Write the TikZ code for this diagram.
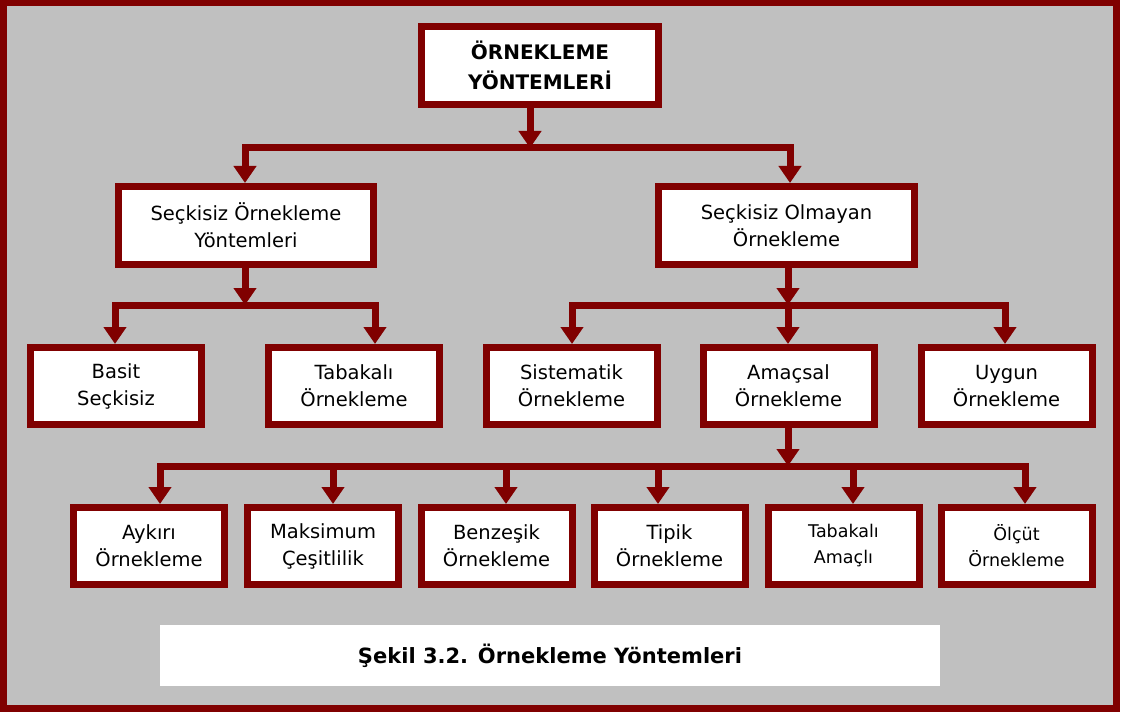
\documentclass[tikz,border=0pt]{standalone}
\usepackage{fontspec}
\setmainfont{DejaVu Sans}
\usepackage{xcolor}
\usetikzlibrary{arrows.meta,positioning}
\definecolor{maroon}{RGB}{128,0,0}
\definecolor{panel}{RGB}{192,192,192}

\begin{document}
\begin{tikzpicture}[x=1pt,y=-1pt,>={Triangle[width=22pt,length=17pt]},
 box/.style={draw=maroon,line width=7pt,fill=white,align=center,inner sep=0pt,
   minimum width=171pt,minimum height=77pt,font=\fontsize{19.5}{27}\selectfont},
 small/.style={box,minimum width=151pt,font=\fontsize{17.5}{26}\selectfont},
 leaf/.style={box,minimum width=151pt},
 arr/.style={->,draw=maroon,line width=7pt},
 bar/.style={draw=maroon,line width=7pt,line cap=rect}]
\useasboundingbox (0,0) rectangle (1123,714);
\fill[white] (0,0) rectangle (1123,714);
\draw[maroon,line width=7pt,fill=panel] (3.5,3) rectangle (1116.5,708.5);

% boxes
\node[box,minimum width=237pt,minimum height=78pt,font=\bfseries\fontsize{20}{30}\selectfont] (root) at (540,65.5) {ÖRNEKLEME\\YÖNTEMLERİ};
\node[box,minimum width=255pt,minimum height=78pt] (rand) at (246,225.5) {Seçkisiz Örnekleme\\Yöntemleri};
\node[box,minimum width=256pt,minimum height=78pt] (nonrand) at (786.5,225.5) {Seçkisiz Olmayan\\Örnekleme};
\node[box] (basit) at (116,386) {Basit\\Seçkisiz};
\node[box] (tabakali) at (354,386) {Tabakalı\\Örnekleme};
\node[box] (sistematik) at (571.5,386) {Sistematik\\Örnekleme};
\node[box] (amacsal) at (788.5,386) {Amaçsal\\Örnekleme};
\node[box] (uygun) at (1006.5,386) {Uygun\\Örnekleme};
\node[leaf] (aykiri) at (149,546) {Aykırı\\Örnekleme};
\node[leaf] (maksimum) at (323,546) {Maksimum\\Çeşitlilik};
\node[leaf] (benzesik) at (496.5,546) {Benzeşik\\Örnekleme};
\node[leaf] (tipik) at (669.5,546) {Tipik\\Örnekleme};
\node[small] (tabamac) at (843.5,546) {Tabakalı\\Amaçlı};
\node[small] (olcut) at (1016.5,546) {Ölçüt\\Örnekleme};

% bars
\coordinate (j0) at (530,148);
\coordinate (j1) at (245,305);
\coordinate (j2) at (788,305);
\coordinate (j3) at (788,466);
\draw[arr] (root.south -| j0) -- (j0);
\draw[bar] (245,148) -- (790,148);
\coordinate (drand) at (245,148);
\coordinate (dnonrand) at (790,148);
\draw[arr] (drand) -- (drand |- rand.north);
\draw[arr] (dnonrand) -- (dnonrand |- nonrand.north);

\draw[arr] (rand.south -| j1) -- (j1);
\draw[bar] (115,305) -- (375,305);
\foreach \x/\n in {115/basit,375/tabakali}{
  \coordinate (d\n) at (\x,305);
  \draw[arr] (d\n) -- (d\n |- \n.north);
}

\draw[arr] (nonrand.south -| j2) -- (j2);
\draw[bar] (572,305) -- (1005,305);
\foreach \x/\n in {572/sistematik,788/amacsal,1005/uygun}{
  \coordinate (d\n) at (\x,305);
  \draw[arr] (d\n) -- (d\n |- \n.north);
}

\draw[arr] (amacsal.south -| j3) -- (j3);
\draw[bar] (160,466) -- (1025,466);
\foreach \x/\n in {160/aykiri,333/maksimum,506/benzesik,658/tipik,853/tabamac,1025/olcut}{
  \coordinate (d\n) at (\x,466);
  \draw[arr] (d\n) -- (d\n |- \n.north);
}

% caption
\node[fill=white,minimum width=780pt,minimum height=61pt,inner sep=0pt,
  font=\bfseries\fontsize{21}{25}\selectfont] (caption) at (550,655.5) {Şekil 3.2. Örnekleme Yöntemleri};
\end{tikzpicture}
\end{document}
